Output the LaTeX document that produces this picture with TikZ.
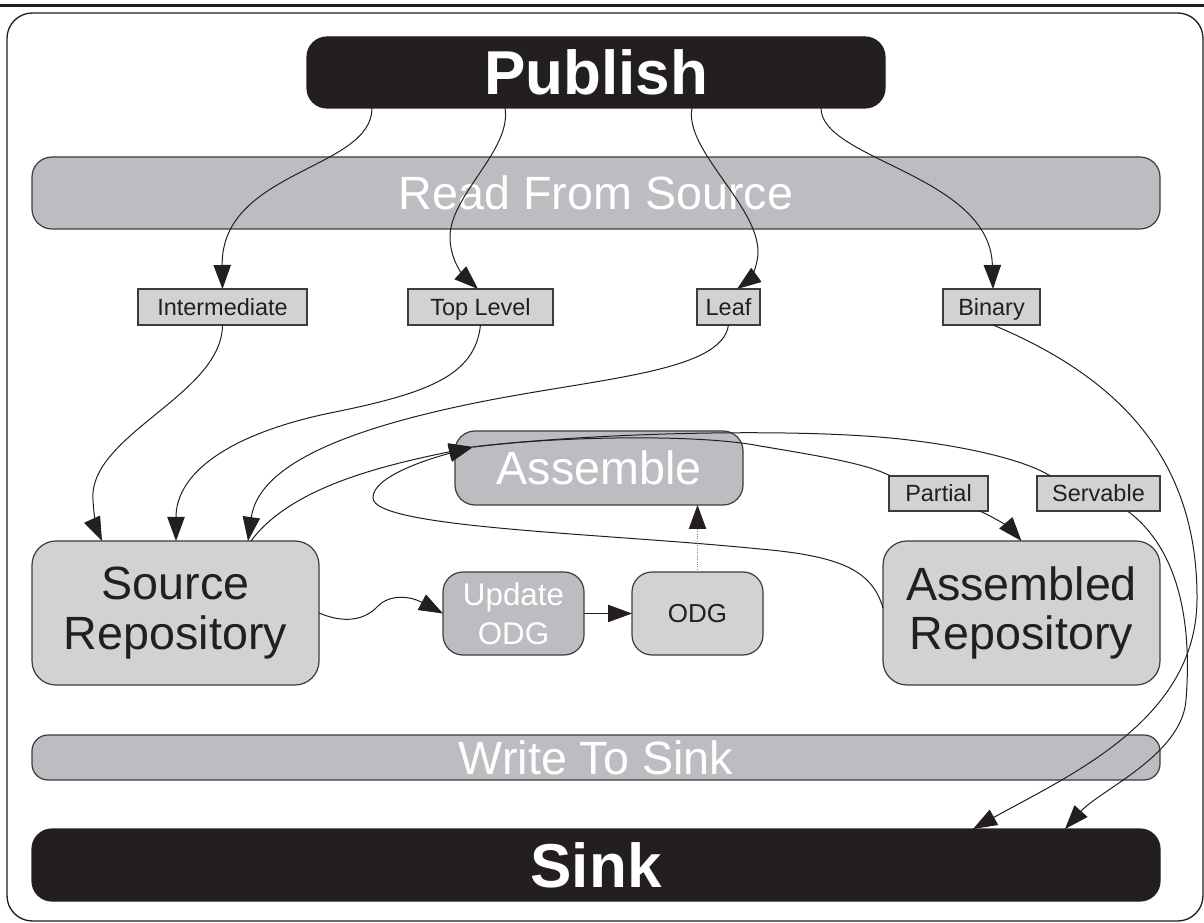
\documentclass[tikz,border=0pt]{standalone}
\usepackage{fontspec}
\setmainfont{Liberation Sans}
\usetikzlibrary{arrows.meta,calc}
\definecolor{pblack}{HTML}{231F20}
\definecolor{gdark}{HTML}{BCBDC0}
\definecolor{glight}{HTML}{D1D2D4}
\definecolor{outl}{HTML}{3C3C3D}
\begin{document}
\begin{tikzpicture}[x=0.75pt,y=-0.75pt,
  base/.style={inner sep=0pt, outer sep=0pt, line width=0.9pt, align=center},
  blackbox/.style={base, draw=pblack, fill=pblack, rounded corners=15pt, text=white, font=\bfseries\fontsize{46.5}{50}\selectfont, text height=33.5pt, text depth=0pt},
  band/.style={base, draw=outl, fill=gdark, rounded corners=15pt, text=white, font=\fontsize{35}{40}\selectfont, text height=25pt, text depth=0pt},
  repo/.style={base, draw=outl, fill=glight, rounded corners=18pt, text=pblack, font=\fontsize{35}{37}\selectfont},
  proc/.style={base, draw=outl, fill=gdark, rounded corners=15pt, text=white},
  lbl/.style={base, draw=outl, fill=glight, text=pblack, font=\fontsize{17.6}{20}\selectfont, text height=12.6pt, text depth=0pt},
  conn/.style={line width=0.75pt, draw=pblack},
  arr/.style={conn, -{Triangle[length=18pt,width=13pt]}},
  dotarr/.style={line width=0.75pt, draw=gray, densely dotted, -{Triangle[length=18pt,width=13pt,fill=pblack,color=pblack]}}
]
\useasboundingbox (0,0) rectangle (1204,923);
\draw[line width=2.2pt, pblack] (0,5.3) -- (1204,5.3);
\draw[line width=1pt, pblack, rounded corners=19pt] (7,13) rectangle (1203,921);

% nodes
\node[blackbox, minimum width=433.5pt, minimum height=53.25pt] (pub) at (596,72.5) {Publish};
\node[band, minimum width=846pt, minimum height=54pt] (rfs) at (596,193) {Read From Source};
\node[lbl, minimum width=126.75pt, minimum height=27pt] (inter) at (222.5,307) {Intermediate};
\node[lbl, minimum width=108.75pt, minimum height=27pt] (top) at (480.5,307) {Top Level};
\node[lbl, minimum width=47.25pt, minimum height=27pt] (leaf) at (728.5,307) {Leaf};
\node[lbl, minimum width=72.75pt, minimum height=27pt] (bin) at (991.5,307) {Binary};
\node[proc, minimum width=216pt, minimum height=55.5pt, font=\fontsize{35}{40}\selectfont, text height=25pt, text depth=0pt] (asm) at (599,468) {Assemble};
\node[lbl, minimum width=74.25pt, minimum height=26.25pt] (partial) at (938.5,493.5) {Partial};
\node[lbl, minimum width=92.25pt, minimum height=26.25pt] (serv) at (1098.5,493.5) {Servable};
\node[repo, minimum width=215.25pt, minimum height=108pt] (srcrepo) at (175.5,613) {Source\\Repository};
\node[proc, minimum width=105.75pt, minimum height=62.25pt, font=\fontsize{23.5}{29}\selectfont] (upd) at (513.5,613.5) {Update\\ODG};
\node[repo, minimum width=98.25pt, minimum height=62.25pt, rounded corners=15pt, font=\fontsize{19.5}{22}\selectfont, text height=14pt, text depth=0pt] (odg) at (697.5,613.5) {ODG};
\node[repo, minimum width=207.75pt, minimum height=108pt] (asmrepo) at (1021.5,613) {Assembled\\Repository};
\node[band, minimum width=846pt, minimum height=33.75pt, rounded corners=12pt] (wts) at (596,757.5) {Write To Sink};
\node[blackbox, minimum width=846pt, minimum height=54pt] (sink) at (596,865) {Sink};

% connectors
\draw[arr] ($(pub.south west)+(65,0)$) .. controls (372,170) and (221,170) .. (inter.north);
\draw[arr] ($(pub.south west)+(198,0)$) .. controls (512,150) and (450,195) .. (450,237)
   .. controls (450,262) and (466,278) .. ($(top.north)+(-2.5,0)$);
\draw[arr] ($(pub.south west)+(385,0)$) .. controls (684,150) and (758,205) .. (758,252)
   .. controls (758,268) and (748,281) .. ($(leaf.north)+(8.5,0)$);
\draw[arr] ($(pub.south west)+(514,0)$) .. controls (821,160) and (990,175) .. ($(bin.north)+(1.5,0)$);

\draw[arr] (inter.south) .. controls (222,395) and (88,435) .. (93,500)
   .. controls (94,518) and (97,530) .. ($(srcrepo.north west)+(70,0)$);
\draw[arr] (top.south) .. controls (475,375) and (430,393) .. (330,413)
   .. controls (225,435) and (176,475) .. ($(srcrepo.north west)+(144,0)$);
\draw[arr] (leaf.south) .. controls (722,372) and (600,378) .. (480,402)
   .. controls (330,432) and (258,470) .. ($(srcrepo.north west)+(216,0)$);

\draw[arr] ($(srcrepo.north west)+(219,0)$) .. controls (290,488) and (380,466) .. ($(asm.north west)+(18,16)$);
\draw[arr] ($(asmrepo.west)+(0,-5)$) .. controls (872,570) and (840,556) .. (760,549)
   .. controls (600,533) and (374,528) .. (373,498)
   .. controls (372,476) and (432,458) .. ($(asm.north west)+(18,16)$);

\draw[conn] ($(asm.north west)+(18,16)$) .. controls (600,432) and (800,428) .. (900,439)
   .. controls (965,446) and (1025,460) .. ($(serv.north)+(-48,0)$);
\draw[conn] ($(asm.north west)+(18,16)$) .. controls (560,436) and (700,434) .. (760,446)
   .. controls (820,456) and (868,464) .. ($(partial.north)+(-48,0)$);

\draw[arr] ($(partial.south)+(41,0)$) .. controls (998,519) and (1012,530) .. (asmrepo.north);
\draw[arr] ($(serv.south)+(29,0)$) .. controls (1180,550) and (1192,625) .. (1186,700)
   .. controls (1182,755) and (1100,790) .. ($(sink.north)+(469,0)$);
\draw[arr] ($(bin.south)+(1.5,0)$) .. controls (1120,378) and (1198,460) .. (1197,600)
   .. controls (1196,720) and (1070,775) .. ($(sink.north)+(377,0)$);

\draw[arr] (srcrepo.east) .. controls (345,624) and (365,620) .. (378,606)
   .. controls (390,594) and (410,596) .. (upd.west);
\draw[arr] (upd.east) -- (odg.west);
\draw[dotarr] (odg.north) -- (odg.north |- asm.south);
\end{tikzpicture}
\end{document}
